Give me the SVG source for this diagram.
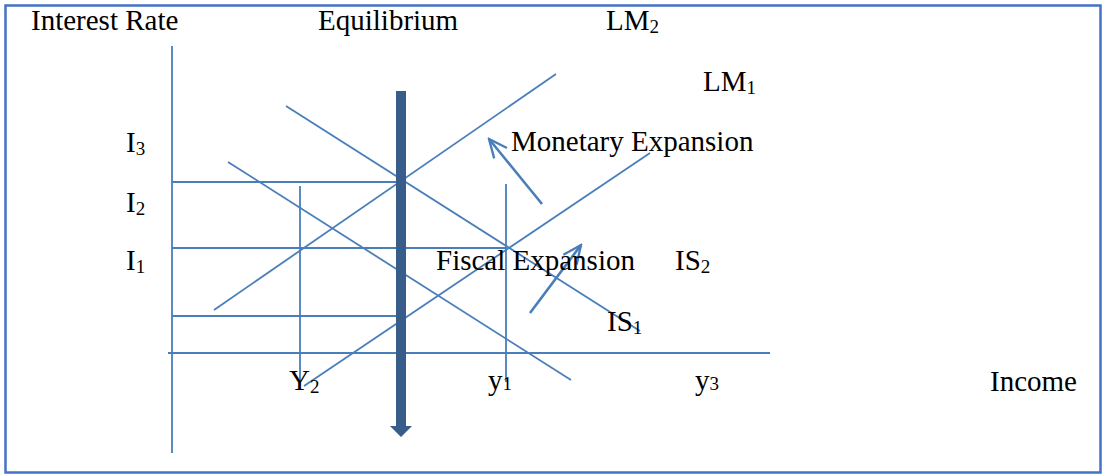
<svg xmlns="http://www.w3.org/2000/svg" width="1103" height="475" viewBox="0 0 1103 475">
<style>
.ln{stroke:#4A7EBB;stroke-width:1.8;fill:none}
.ar{stroke:#4A7EBB;stroke-width:2.6;fill:none}
.t{font-family:"Liberation Serif","Times New Roman",serif;font-size:29px;fill:#000}
.s{font-size:19px}
</style>
<defs>
<marker id="openA" viewBox="0 0 24 24" refX="22" refY="12" markerWidth="22" markerHeight="22" markerUnits="userSpaceOnUse" orient="auto">
<path d="M2,3 L22,12 L2,21" fill="none" stroke="#4A7EBB" stroke-width="2.6"/>
</marker>
</defs>
<rect x="5.5" y="5.5" width="1095" height="467" fill="#fff" stroke="#4472C4" stroke-width="2.5"/>
<g id="connectors">
<g id="axes">
<line class="ln" x1="172" y1="46" x2="172" y2="453"/>
<line class="ln" x1="168" y1="353" x2="770" y2="353"/>
</g>
<g id="guides">
<line class="ln" x1="172" y1="182" x2="401" y2="182"/>
<line class="ln" x1="172" y1="248" x2="507" y2="248"/>
<line class="ln" x1="172" y1="316" x2="401" y2="316"/>
<line class="ln" x1="300" y1="186" x2="300" y2="386"/>
<line class="ln" x1="506" y1="184" x2="506" y2="382"/>
</g>
<g id="LM2"><line class="ln" x1="214" y1="310" x2="556" y2="74"/></g>
<g id="LM1"><line class="ln" x1="304" y1="386" x2="650" y2="153"/></g>
<g id="IS2"><line class="ln" x1="286" y1="106" x2="640" y2="331"/></g>
<g id="IS1"><line class="ln" x1="228" y1="162" x2="571" y2="380"/></g>
<g id="monetary-arrow"><line class="ar" x1="542" y1="204" x2="489" y2="139" marker-end="url(#openA)"/></g>
<g id="fiscal-arrow"><line class="ar" x1="530" y1="313" x2="581" y2="245" marker-end="url(#openA)"/></g>
<g id="equilibrium-arrow"><polygon points="396,91 406,91 406,426 412,426 401,437 390,426 396,426" fill="#385D8A"/></g>
</g>
<g id="labels">
<text class="t" x="31" y="30">Interest Rate</text>
<text class="t" x="318" y="30">Equilibrium</text>
<text class="t" x="606" y="30">LM<tspan class="s" dy="3">2</tspan></text>
<text class="t" x="703" y="91">LM<tspan class="s" dy="3">1</tspan></text>
<text class="t" x="511" y="151">Monetary Expansion</text>
<text class="t" x="126" y="152">I<tspan class="s" dy="3">3</tspan></text>
<text class="t" x="126" y="212">I<tspan class="s" dy="3">2</tspan></text>
<text class="t" x="126" y="270">I<tspan class="s" dy="3">1</tspan></text>
<text class="t" x="436" y="270">Fiscal Expansion</text>
<text class="t" x="675" y="270">IS<tspan class="s" dy="3">2</tspan></text>
<text class="t" x="607" y="331">IS<tspan class="s" dy="3">1</tspan></text>
<text class="t" x="289" y="390">Y<tspan class="s" dy="3">2</tspan></text>
<text class="t" x="488" y="390">y<tspan class="s">1</tspan></text>
<text class="t" x="695" y="390">y<tspan class="s">3</tspan></text>
<text class="t" x="990" y="391">Income</text>
</g>
</svg>
